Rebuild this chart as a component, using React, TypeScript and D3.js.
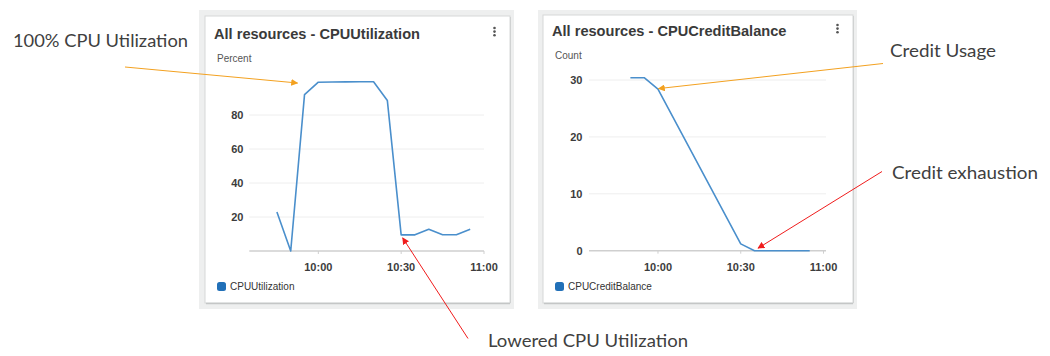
import React from "react";
import * as d3 from "d3";

// ---- data ----
const cpuTimes = ["09:45", "09:50", "09:55", "10:00", "10:05", "10:10", "10:15", "10:20", "10:25", "10:30", "10:35", "10:40", "10:45", "10:50", "10:55"];
const cpuValues = [23, 0, 92, 99.3, 99.4, 99.5, 99.6, 99.6, 88.5, 9.5, 9.5, 12.8, 9.6, 9.6, 12.8];
const creditTimes = ["09:50", "09:55", "10:00", "10:30", "10:35", "10:40", "10:45", "10:50", "10:55"];
const creditValues = [30.4, 30.4, 28.4, 1.2, 0, 0, 0, 0, 0];
const cpuYTicks = [20, 40, 60, 80];
const creditYTicks = [0, 10, 20, 30];
const xTickLabels = ["10:00", "10:30", "11:00"];
const xDomain = ["09:35", "11:00"];

const parse = d3.timeParse("%H:%M");

const LINE = "#4a8fcc";
const LEGEND = "#2170b8";
const ORANGE = "#f3a120";
const RED = "#f01c1c";
const FONT = "'Liberation Sans', Arial, Helvetica, sans-serif";
const ANNOT_FONT = "Lato, 'Open Sans', sans-serif";

type PanelProps = {
  gx: number; gy: number; gw: number; gh: number;
  cx: number; cy: number; cw: number; ch: number;
  title: string; unit: string; legend: string;
  titleY: number; unitY: number;
  xs: d3.ScaleTime<number, number>;
  ys: d3.ScaleLinear<number, number>;
  yTicks: number[];
  times: string[]; values: number[];
  labelRight: number;
  gridRight: number;
};

function Panel(p: PanelProps) {
  const line = d3
    .line<number>()
    .x((_, i) => p.xs(parse(p.times[i])!))
    .y((v) => p.ys(v));
  const [x0] = p.xs.range();
  const y0 = p.ys(0);
  return (
    <g>
      <rect x={p.gx} y={p.gy} width={p.gw} height={p.gh} fill="#eeefef" />
      <rect x={p.cx} y={p.cy} width={p.cw} height={p.ch} fill="#fff" stroke="#d6d8d8" strokeWidth={1} />
      <line x1={p.cx + 1} x2={p.cx + p.cw} y1={p.cy + p.ch + 0.5} y2={p.cy + p.ch + 0.5} stroke="#c4c6c6" strokeWidth={1.5} />
      <line x1={p.cx + p.cw + 0.5} x2={p.cx + p.cw + 0.5} y1={p.cy + 1} y2={p.cy + p.ch} stroke="#d0d2d2" strokeWidth={1} />
      <text x={p.cx + 9} y={p.titleY} fontFamily={FONT} fontWeight="bold" fontSize={14.6} fill="#3a3a3a">
        {p.title}
      </text>
      {[0, 1, 2].map((k) => (
        <circle key={k} cx={p.cx + p.cw - 15.5} cy={p.titleY - 11 + k * 3.6} r={1.3} fill="#555" />
      ))}
      <text x={p.cx + 12} y={p.unitY} fontFamily={FONT} fontSize={10} fill="#555">
        {p.unit}
      </text>
      {p.yTicks.filter((t) => t !== 0).map((t) => (
        <line key={"g" + t} x1={x0} x2={p.gridRight} y1={p.ys(t)} y2={p.ys(t)} stroke="#eeeeee" strokeWidth={1} />
      ))}
      <line x1={x0} x2={p.gridRight} y1={y0} y2={y0} stroke="#cfcfcf" strokeWidth={1.5} />
      {xTickLabels.map((t) => {
        const x = p.xs(parse(t)!);
        return (
          <g key={"x" + t}>
            <line x1={x} x2={x} y1={y0} y2={y0 + 3} stroke="#cfcfcf" strokeWidth={1} />
            <text x={x} y={271} textAnchor="middle" fontFamily={FONT} fontWeight="bold" fontSize={11} fill="#3c3c3c">
              {t}
            </text>
          </g>
        );
      })}
      {p.yTicks.map((t) => (
        <text key={"y" + t} x={p.labelRight} y={p.ys(t) + 4} textAnchor="end" fontFamily={FONT} fontWeight="bold" fontSize={11} fill="#3c3c3c">
          {t}
        </text>
      ))}
      <path d={line(p.values) ?? ""} fill="none" stroke={LINE} strokeWidth={1.6} strokeLinejoin="round" />
      <rect x={p.cx + 12} y={282} width={9} height={9} rx={2.5} fill={LEGEND} />
      <text x={p.cx + 25} y={290} fontFamily={FONT} fontSize={10} fill="#333">
        {p.legend}
      </text>
    </g>
  );
}

export default function App() {
  const xL = d3.scaleTime().domain(xDomain.map((s) => parse(s)!)).range([249.3, 484]);
  const yL = d3.scaleLinear().domain([0, 100]).range([251, 81]);
  const xR = d3.scaleTime().domain(xDomain.map((s) => parse(s)!)).range([589, 823.5]);
  const yR = d3.scaleLinear().domain([0, 30]).range([250.7, 80]);

  const tip100 = [xL(parse("09:55")!) - 7, yL(100) + 2];
  const tipLow = [xL(parse("10:30")!) + 1.5, yL(cpuValues[9]) + 3];
  const tipUse = [xR(parse("10:00")!) + 0.5, yR(creditValues[2]) - 0.5];
  const tipExh = [xR(parse("10:35")!) + 3.5, yR(0) - 2.5];

  const arrows = [
    { from: [125, 67], to: tip100, c: ORANGE, id: "ao" },
    { from: [883, 63.5], to: tipUse, c: ORANGE, id: "ao" },
    { from: [882, 171.5], to: tipExh, c: RED, id: "ar" },
    { from: [468, 338.5], to: tipLow, c: RED, id: "ar" },
  ];

  return (
    <svg width={1050} height={356} style={{ position: "absolute", left: 0, top: 0, background: "#fff" }}>
      <defs>
        <marker id="ao" viewBox="0 0 10 10" refX="9" refY="5" markerWidth="7" markerHeight="7" markerUnits="userSpaceOnUse" orient="auto">
          <path d="M0,0 L10,5 L0,10 z" fill={ORANGE} />
        </marker>
        <marker id="ar" viewBox="0 0 10 10" refX="9" refY="5" markerWidth="7" markerHeight="7" markerUnits="userSpaceOnUse" orient="auto">
          <path d="M0,0 L10,5 L0,10 z" fill={RED} />
        </marker>
      </defs>
      <rect width={1050} height={356} fill="#fff" />
      <Panel
        gx={199} gy={10} gw={315} gh={299}
        cx={205} cy={16} cw={305} ch={287}
        title="All resources - CPUUtilization" unit="Percent" legend="CPUUtilization"
        titleY={39} unitY={62}
        xs={xL} ys={yL} yTicks={cpuYTicks}
        times={cpuTimes} values={cpuValues}
        labelRight={243.5} gridRight={484}
      />
      <Panel
        gx={538} gy={10} gw={319} gh={299}
        cx={543} cy={15} cw={310} ch={288}
        title="All resources - CPUCreditBalance" unit="Count" legend="CPUCreditBalance"
        titleY={36} unitY={59}
        xs={xR} ys={yR} yTicks={creditYTicks}
        times={creditTimes} values={creditValues}
        labelRight={582.5} gridRight={826}
      />
      {arrows.map((a, i) => (
        <line key={i} x1={a.from[0]} y1={a.from[1]} x2={a.to[0]} y2={a.to[1]} stroke={a.c} strokeWidth={1} markerEnd={`url(#${a.id})`} />
      ))}
      <text x={13} y={47} fontFamily={ANNOT_FONT} fontSize={18} fill="#404040" textLength={175} lengthAdjust="spacingAndGlyphs">
        100% CPU Utilization
      </text>
      <text x={890} y={57} fontFamily={ANNOT_FONT} fontSize={18} fill="#404040" textLength={106} lengthAdjust="spacingAndGlyphs">
        Credit Usage
      </text>
      <text x={892} y={179} fontFamily={ANNOT_FONT} fontSize={18} fill="#404040" textLength={146} lengthAdjust="spacingAndGlyphs">
        Credit exhaustion
      </text>
      <text x={488} y={347} fontFamily={ANNOT_FONT} fontSize={18} fill="#404040" textLength={200} lengthAdjust="spacingAndGlyphs">
        Lowered CPU Utilization
      </text>
    </svg>
  );
}
